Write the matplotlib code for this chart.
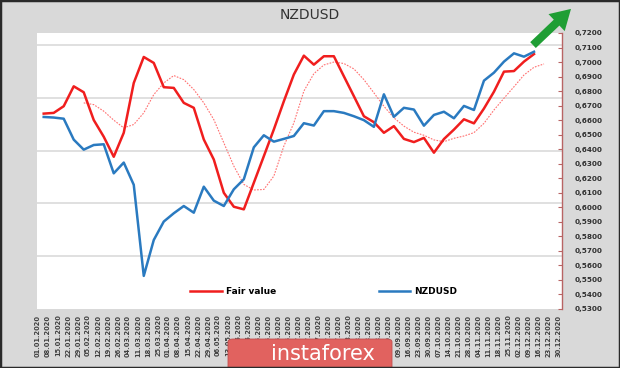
import matplotlib
matplotlib.use("Agg")
import matplotlib.pyplot as plt
from matplotlib.patches import Rectangle, FancyBboxPatch
import numpy as np
import pandas as pd

# weekly tick labels along the bottom
date_labels = list(pd.date_range("2020-01-01", "2020-12-30", freq="7D").strftime("%d.%m.%Y"))

# weekly values
fair_value = [0.6645, 0.6650, 0.6696, 0.6833, 0.6792, 0.6601, 0.6486, 0.6348, 0.6513, 0.6856,
              0.7035, 0.6994, 0.6827, 0.6822, 0.6719, 0.6685, 0.6467, 0.6329, 0.6100, 0.6004,
              0.5986, 0.6169, 0.6352, 0.6536, 0.6730, 0.6914, 0.7044, 0.6982, 0.7040, 0.7040,
              0.6902, 0.6765, 0.6627, 0.6586, 0.6513, 0.6559, 0.6471, 0.6449, 0.6478, 0.6376,
              0.6470, 0.6535, 0.6606, 0.6578, 0.6680, 0.6796, 0.6934, 0.6938, 0.7003, 0.7055]
nzdusd = [0.6622, 0.6618, 0.6610, 0.6466, 0.6397, 0.6429, 0.6434, 0.6234, 0.6308, 0.6155,
          0.5528, 0.5775, 0.5902, 0.5959, 0.6009, 0.5963, 0.6142, 0.6046, 0.6009, 0.6124,
          0.6193, 0.6413, 0.6496, 0.6452, 0.6471, 0.6491, 0.6579, 0.6563, 0.6662, 0.6662,
          0.6650, 0.6627, 0.6600, 0.6554, 0.6778, 0.6623, 0.6685, 0.6673, 0.6562, 0.6636,
          0.6658, 0.6613, 0.6698, 0.6670, 0.6872, 0.6927, 0.7003, 0.7060, 0.7037, 0.7071]
# smoothed fair value (dotted), starts at week 5 and runs one week past the others
fair_value_avg = [0.6719, 0.6707, 0.6662, 0.6600, 0.6547, 0.6570, 0.6650, 0.6776, 0.6856, 0.6907,
                  0.6879, 0.6811, 0.6719, 0.6604, 0.6444, 0.6284, 0.6158, 0.6119, 0.6123, 0.6215,
                  0.6421, 0.6581, 0.6800, 0.6920, 0.6980, 0.7000, 0.6990, 0.6953, 0.6879, 0.6788,
                  0.6696, 0.6616, 0.6559, 0.6517, 0.6496, 0.6464, 0.6452, 0.6475, 0.6491, 0.6514,
                  0.6578, 0.6670, 0.6751, 0.6830, 0.6911, 0.6964, 0.6987]
avg_start = 4

RED = "#f01e1e"
BLUE = "#2a7ac0"
W, H = 620, 368

fig = plt.figure(figsize=(W / 100, H / 100), dpi=100, facecolor="#d9d9d9")
ax = fig.add_axes([37 / W, 1 - 309 / H, (562 - 37) / W, 276 / H])
ax.set_facecolor("white")

# light grid lines (come from a hidden primary axis in the original)
for k in range(1, 6):
    ax.axhline(0.53 + k * 0.03635, color="#dadada", lw=1.2, zorder=0)

x = np.arange(len(fair_value))
ax.plot(x, fair_value, color=RED, lw=1.8, label="Fair value", zorder=3)
ax.plot(x, nzdusd, color=BLUE, lw=1.8, label="NZDUSD", zorder=3)
xa = np.arange(avg_start, avg_start + len(fair_value_avg))
ax.plot(xa, fair_value_avg, color="#ff7070", lw=0.8, ls=(0, (1.5, 1.2)), zorder=2)

ax.set_xlim(-0.67, 51.8)
ax.set_ylim(0.53, 0.72)

for s in ("left", "top", "bottom"):
    ax.spines[s].set_visible(False)
ax.spines["right"].set_color("#b86464")
ax.spines["right"].set_linewidth(1.0)

ax.yaxis.tick_right()
yt = np.round(np.arange(0.53, 0.7201, 0.01), 2)
ax.set_yticks(yt, labels=[f"{v:.4f}".replace(".", ",") for v in yt])
ax.tick_params(axis="y", direction="in", length=3, color="#b86464", pad=9,
               labelsize=5.2, labelcolor="#303030")
for t in ax.get_yticklabels():
    t.set_fontweight("bold")

ax.set_xticks(np.arange(len(date_labels)) - 0.57, labels=date_labels, rotation=90)
ax.tick_params(axis="x", length=0, pad=4, labelsize=4.8, labelcolor="#404040")
for t in ax.get_xticklabels():
    t.set_fontweight("bold")

fig.text(0.5, 1 - 15 / H, "NZDUSD", ha="center", va="center", fontsize=10, color="#333333")

leg = ax.legend(ncol=2, loc="center left", bbox_to_anchor=(190 / W, 1 - 292 / H),
                bbox_transform=fig.transFigure, frameon=False, borderpad=0, borderaxespad=0,
                handlelength=3.5, handletextpad=0.45, columnspacing=11.4,
                prop={"size": 6.5, "weight": "bold"})

# green arrow at the top right
ax.annotate("", xy=(573, H - 7), xytext=(531, H - 47), xycoords="figure pixels",
            textcoords="figure pixels", annotation_clip=False,
            arrowprops=dict(arrowstyle="simple,head_width=1.3,head_length=1.1,tail_width=0.45",
                            mutation_scale=13, color="#1f9e34", lw=0))

# logo badge
fig.patches.append(FancyBboxPatch((228 / W, -0.02), 164 / W, 0.02 + 29 / H,
                                  boxstyle="round,pad=0,rounding_size=0.008",
                                  transform=fig.transFigure, facecolor="#e1625f",
                                  edgecolor="#c05050", lw=0.6, zorder=5))
fig.text(323 / W, 1 - 354 / H, "instaforex", ha="center", va="center", color="white",
         fontsize=15, zorder=6)

# outer frame
fig.patches.append(Rectangle((0, 0), 1, 1, transform=fig.transFigure, fill=False,
                             edgecolor="#2a2a2a", lw=2.5, zorder=10))

fig.savefig("out.png", dpi=100, facecolor=fig.get_facecolor())
